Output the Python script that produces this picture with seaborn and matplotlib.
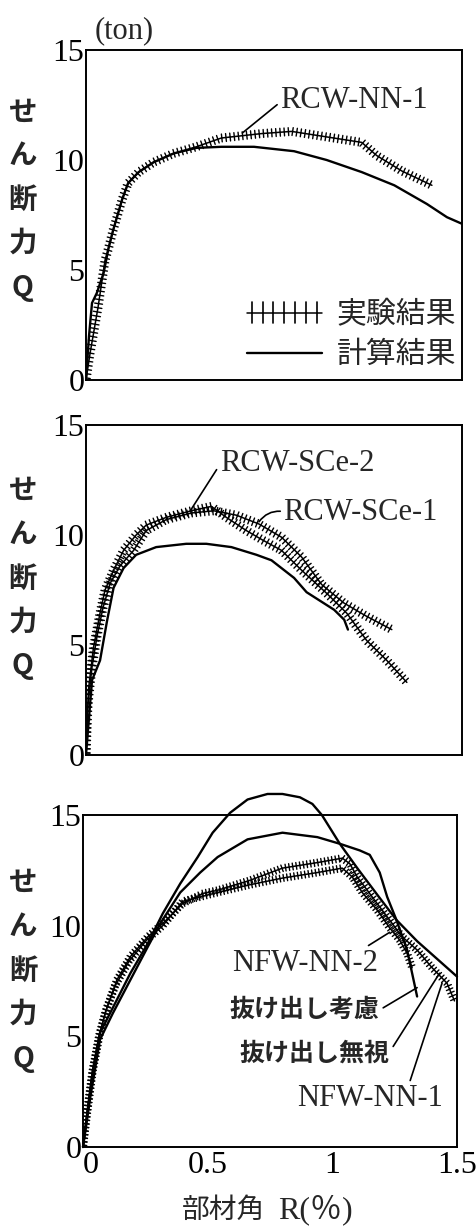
import matplotlib
matplotlib.use("Agg")
import matplotlib.pyplot as plt
import matplotlib.patheffects as pe
from matplotlib.lines import Line2D
import seaborn as sns

sns.set_theme(style="white")
plt.rcParams["font.family"] = ["Liberation Serif", "Noto Sans CJK JP"]
JP = ["Noto Sans CJK JP", "DejaVu Sans"]
MIX = ["Liberation Serif", "Noto Sans CJK JP"]

# ── Data (R in %, Q in ton) ────────────────────────────────────────────────
# panel 1: RCW-NN-1
p1_exp_R = [0, 0.016, 0.048, 0.076, 0.09, 0.108, 0.144, 0.168, 0.21, 0.27, 0.35,
            0.44, 0.54, 0.62, 0.70, 0.82, 0.96, 1.10, 1.16, 1.26, 1.38]
p1_exp_Q = [0, 1.2, 3.3, 5.45, 6.0, 6.8, 8.2, 8.95, 9.45, 9.9, 10.3,
            10.6, 11.0, 11.1, 11.2, 11.3, 11.05, 10.8, 10.2, 9.5, 8.85]
p1_calc_R = [0, 0.012, 0.024, 0.043, 0.07, 0.09, 0.108, 0.144, 0.168, 0.21, 0.27,
             0.35, 0.44, 0.54, 0.67, 0.83, 0.96, 1.10, 1.23, 1.36, 1.44, 1.50]
p1_calc_Q = [0, 2.0, 3.5, 3.95, 4.85, 6.0, 6.8, 8.2, 8.95, 9.45, 9.9,
             10.3, 10.55, 10.6, 10.6, 10.4, 10.0, 9.45, 8.85, 8.0, 7.4, 7.1]

# panel 2: RCW-SCe-1 / RCW-SCe-2
p2_calc_R = [0, 0.024, 0.056, 0.084, 0.11, 0.15, 0.20, 0.28, 0.40, 0.48, 0.58,
             0.68, 0.74, 0.83, 0.88, 0.99, 1.03, 1.045]
p2_calc_Q = [0, 3.4, 4.3, 6.1, 7.6, 8.5, 9.1, 9.45, 9.6, 9.6, 9.45,
             9.1, 8.85, 8.05, 7.4, 6.6, 6.15, 5.7]
sce2_R = [0, 0.01, 0.03, 0.056, 0.076, 0.11, 0.15, 0.20, 0.24, 0.32, 0.42, 0.50,
          0.56, 0.64, 0.70, 0.78, 0.86, 0.96, 1.04, 1.12, 1.20, 1.28]
sce2_Q = [0, 3.0, 4.9, 6.45, 7.5, 8.4, 9.3, 10.0, 10.45, 10.8, 11.1, 11.3,
          10.8, 10.2, 9.8, 9.3, 8.4, 7.35, 6.45, 5.2, 4.3, 3.3]
sce1_R = [0, 0.004, 0.024, 0.044, 0.068, 0.096, 0.136, 0.19, 0.24, 0.32, 0.42,
          0.51, 0.60, 0.69, 0.78, 0.86, 0.94, 1.03, 1.12, 1.22]
sce1_Q = [0, 1.9, 4.0, 5.4, 6.7, 7.8, 8.6, 9.3, 10.2, 10.7, 11.0,
          11.1, 10.9, 10.5, 9.9, 9.0, 7.75, 6.9, 6.3, 5.7]

# panel 3: NFW-NN-1 / NFW-NN-2
ignore_R = [0, 0.04, 0.068, 0.12, 0.19, 0.26, 0.32, 0.39, 0.46, 0.52, 0.59, 0.66,
            0.74, 0.80, 0.87, 0.92, 0.958, 1.03, 1.10, 1.18, 1.257, 1.34, 1.42, 1.50]
ignore_Q = [0, 3.5, 5.15, 6.3, 7.85, 9.2, 10.55, 11.9, 13.1, 14.2, 15.1, 15.7,
            15.95, 15.95, 15.8, 15.5, 15.0, 13.7, 12.6, 11.4, 10.26, 9.3, 8.5, 7.7]
consider_R = [0, 0.03, 0.068, 0.12, 0.19, 0.26, 0.31, 0.39, 0.47, 0.54, 0.66, 0.80,
              0.94, 1.03, 1.11, 1.15, 1.19, 1.22, 1.257, 1.30, 1.32, 1.34]
consider_Q = [0, 2.3, 4.85, 6.05, 7.55, 9.05, 10.1, 11.5, 12.4, 13.1, 13.9, 14.2,
              14.0, 13.7, 13.4, 13.2, 12.4, 11.3, 10.26, 8.9, 7.85, 6.8]
nn1_R = [0, 0.016, 0.04, 0.068, 0.096, 0.136, 0.19, 0.26, 0.32, 0.40, 0.48, 0.54,
         0.67, 0.80, 0.94, 1.04, 1.07, 1.10, 1.14, 1.19, 1.24, 1.28, 1.34, 1.40,
         1.46, 1.49]
nn1_Q = [0, 1.5, 3.5, 5.15, 6.3, 7.55, 8.6, 9.5, 10.1, 11.0, 11.45, 11.6,
         12.05, 12.6, 12.85, 13.05, 12.8, 12.2, 11.6, 10.85, 10.1, 9.5, 8.9, 8.1,
         7.4, 6.6]
nn2_R = [0, 0.012, 0.036, 0.064, 0.09, 0.13, 0.185, 0.255, 0.32, 0.40, 0.54, 0.67,
         0.80, 0.94, 1.04, 1.08, 1.12, 1.18, 1.23, 1.27, 1.30, 1.32]
nn2_Q = [0, 1.2, 3.3, 5.0, 6.1, 7.3, 8.4, 9.35, 10.0, 11.1, 11.5, 11.85,
         12.15, 12.4, 12.6, 12.2, 11.5, 10.7, 9.9, 9.35, 8.75, 8.1]

y_ticks = [0, 5, 10, 15]
x_ticks = [0, 0.5, 1, 1.5]
x_tick_labels = ["0", "0.5", "1", "1.5"]


def ticked(spacing=3.0, length=0.95, lw=1.0):
    return [pe.Normal(),
            pe.TickedStroke(angle=90, spacing=spacing, length=length, linewidth=lw),
            pe.TickedStroke(angle=-90, spacing=spacing, length=length, linewidth=lw)]


def curve(ax, R, Q, lw=1.7, effects=None, clip=True):
    sns.lineplot(x=R, y=Q, ax=ax, color="black", lw=lw, estimator=None, sort=False)
    line = ax.lines[-1]
    line.set_clip_on(clip)
    if effects:
        line.set_path_effects(effects)
    return line


def style_axes(ax, show_x_labels):
    ax.set_xlim(0, 1.5)
    ax.set_ylim(0, 15)
    ax.set_yticks(y_ticks)
    ax.set_yticklabels([str(v) for v in y_ticks])
    if show_x_labels:
        ax.set_xticks(x_ticks)
        ax.set_xticklabels(x_tick_labels)
    else:
        ax.set_xticks(x_ticks[1:3])
        ax.set_xticklabels([])
    ax.tick_params(axis="both", direction="in", length=6, width=1.3,
                   labelsize=23, color="black", labelcolor="black")
    ax.tick_params(axis="y", pad=1)
    ax.tick_params(axis="x", pad=3)
    for s in ax.spines.values():
        s.set_color("black")
        s.set_linewidth(1.4)
    ax.set_xlabel("")
    ax.set_ylabel("")


def ylabel(ax, x, y):
    ax.text(x, y, "せ\nん\n断\n力\nQ", transform=ax.transAxes, ha="center",
            va="center", fontsize=20.5, fontweight="bold", family=JP,
            linespacing=1.72)


def label(ax, text, xy, xytext, relpos, fontsize=22, family=MIX, weight="normal",
          rad=0.0):
    ax.annotate(text, xy=xy, xytext=xytext, ha="center", va="center",
                fontsize=fontsize, family=family, fontweight=weight,
                annotation_clip=False,
                arrowprops=dict(arrowstyle="-", lw=1.2, color="black",
                                relpos=relpos, shrinkA=0, shrinkB=0,
                                connectionstyle=f"arc3,rad={rad}"))


fig = plt.figure(figsize=(4.77, 12.27), dpi=100)
ax1 = fig.add_axes([86 / 477, 1 - 380 / 1227, 376 / 477, 330 / 1227])
ax2 = fig.add_axes([86 / 477, 1 - 755 / 1227, 376 / 477, 330 / 1227])
ax3 = fig.add_axes([83 / 477, 1 - 1147 / 1227, 374 / 477, 332 / 1227])

# ── Panel 1 ────────────────────────────────────────────────────────────────
curve(ax1, p1_calc_R, p1_calc_Q)
curve(ax1, p1_exp_R, p1_exp_Q, lw=1.1, effects=ticked())
style_axes(ax1, False)
ylabel(ax1, -0.168, 0.545)
ax1.text(0.024, 1.036, "(ton)", transform=ax1.transAxes, fontsize=22,
         ha="left", va="baseline")
label(ax1, "RCW-NN-1", xy=(0.624, 11.23), xytext=(1.07, 12.7), relpos=(0, 0.45))

h_exp = Line2D([], [], color="black", lw=1.1,
               path_effects=ticked(spacing=7, length=1.05, lw=1.2))
h_calc = Line2D([], [], color="black", lw=1.7)
ax1.legend([h_exp, h_calc], ["実験結果", "計算結果"], loc="lower right",
           bbox_to_anchor=(1.0, 0.012), frameon=False, handlelength=2.5,
           handletextpad=0.5, labelspacing=0.3, borderpad=0.1,
           borderaxespad=0.1, prop={"family": JP, "size": 21.5})

# ── Panel 2 ────────────────────────────────────────────────────────────────
curve(ax2, p2_calc_R, p2_calc_Q)
curve(ax2, sce2_R, sce2_Q, lw=1.1, effects=ticked())
curve(ax2, sce1_R, sce1_Q, lw=1.1, effects=ticked())
style_axes(ax2, False)
ylabel(ax2, -0.168, 0.535)
label(ax2, "RCW-SCe-2", xy=(0.416, 11.1), xytext=(0.842, 13.27), relpos=(0, 0.45))
label(ax2, "RCW-SCe-1", xy=(0.69, 10.6), xytext=(1.096, 11.0), relpos=(0, 0.55),
      rad=0.3)

# ── Panel 3 ────────────────────────────────────────────────────────────────
curve(ax3, ignore_R, ignore_Q, clip=False)
curve(ax3, consider_R, consider_Q, clip=False)
curve(ax3, nn1_R, nn1_Q, lw=1.1, effects=ticked(spacing=2.6, length=0.95))
curve(ax3, nn2_R, nn2_Q, lw=1.1, effects=ticked(spacing=2.6, length=0.95))
style_axes(ax3, True)
ax3.get_xticklabels()[0].set_ha("left")
ylabel(ax3, -0.16, 0.53)
label(ax3, "NFW-NN-2", xy=(1.23, 9.7), xytext=(0.89, 8.3), relpos=(0.9, 1.0))
label(ax3, "抜け出し考慮", xy=(1.34, 7.2), xytext=(0.89, 6.2), relpos=(1.0, 0.5),
      fontsize=18, family=JP, weight="bold")
label(ax3, "抜け出し無視", xy=(1.43, 7.85), xytext=(0.93, 4.2), relpos=(1.0, 0.6),
      fontsize=18, family=JP, weight="bold")
label(ax3, "NFW-NN-1", xy=(1.44, 7.4), xytext=(1.15, 2.2), relpos=(0.77, 1.0))
ax3.text(0.265, -0.19, "部材角", transform=ax3.transAxes, ha="left",
         va="center", fontsize=20, family=JP)
ax3.text(0.521, -0.19, "R(％)", transform=ax3.transAxes, ha="left",
         va="center", fontsize=23, family=MIX)

fig.savefig("out.png", dpi=100)
